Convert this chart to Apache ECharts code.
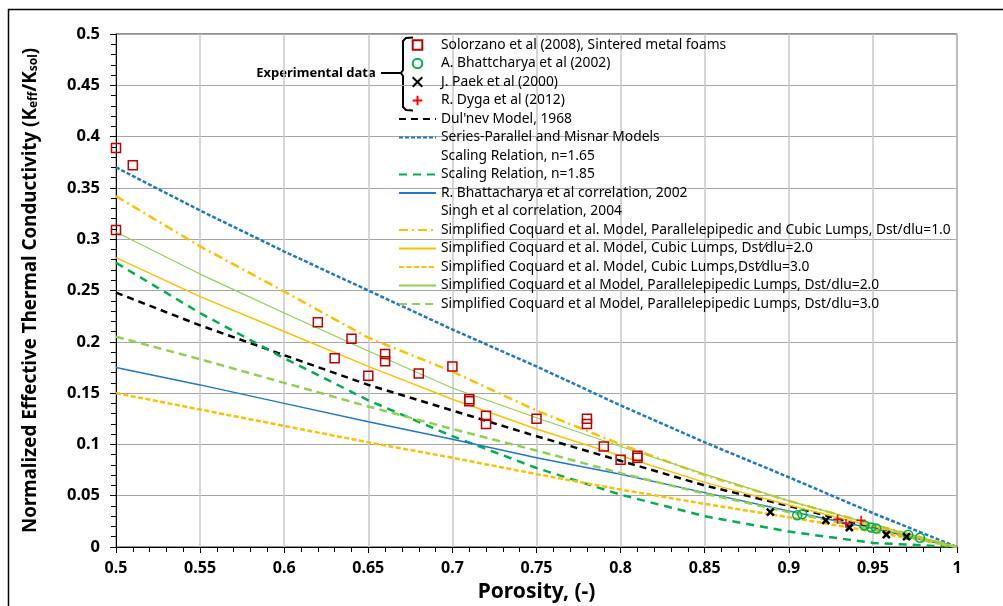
<!DOCTYPE html>
<html>
<head>
<meta charset="utf-8">
<script src="https://cdn.jsdelivr.net/npm/echarts@6/dist/echarts.min.js"></script>
<style>
  html, body { margin: 0; padding: 0; background: #fff; }
  #chart { width: 1003px; height: 606px; }
</style>
</head>
<body>
<div id="chart"></div>
<script>
// porosity grid used for the model curves
const porosity = [0.5, 0.55, 0.6, 0.65, 0.7, 0.75, 0.8, 0.85, 0.9, 0.95, 1.0];

// model curves
const dulnev       = [0.248, 0.216, 0.187, 0.158, 0.133, 0.108, 0.084, 0.060, 0.040, 0.019, 0];
const seriesPar    = [0.370, 0.328, 0.288, 0.250, 0.212, 0.176, 0.138, 0.102, 0.068, 0.033, 0];
const scaling185   = [0.277, 0.228, 0.184, 0.143, 0.108, 0.077, 0.051, 0.030, 0.015, 0.004, 0];
const bhattCorr    = [0.175, 0.158, 0.140, 0.122, 0.105, 0.087, 0.071, 0.053, 0.035, 0.018, 0];
const coqPC10      = [0.342, 0.293, 0.249, 0.204, 0.171, 0.133, 0.100, 0.070, 0.045, 0.022, 0];
const coqC20       = [0.282, 0.244, 0.210, 0.176, 0.144, 0.115, 0.089, 0.063, 0.041, 0.020, 0];
const coqC30       = [0.150, 0.134, 0.118, 0.102, 0.087, 0.071, 0.056, 0.042, 0.029, 0.015, 0];
const coqP20       = [0.307, 0.266, 0.228, 0.191, 0.155, 0.126, 0.098, 0.071, 0.045, 0.022, 0];
const coqP30       = [0.205, 0.183, 0.160, 0.137, 0.115, 0.094, 0.072, 0.052, 0.034, 0.017, 0];

// experimental points
const solorzano = [
  [0.50, 0.389], [0.51, 0.372], [0.50, 0.309], [0.62, 0.219], [0.63, 0.184],
  [0.64, 0.203], [0.65, 0.167], [0.66, 0.188], [0.66, 0.181], [0.68, 0.169],
  [0.70, 0.176], [0.71, 0.144], [0.71, 0.142], [0.72, 0.128], [0.72, 0.120],
  [0.75, 0.125], [0.78, 0.125], [0.78, 0.120], [0.79, 0.098], [0.80, 0.085],
  [0.81, 0.089], [0.81, 0.087]
];
const bhattExp = [
  [0.905, 0.031], [0.908, 0.032], [0.945, 0.021], [0.949, 0.019], [0.952, 0.018],
  [0.971, 0.012], [0.978, 0.009]
];
const paek = [[0.889, 0.034], [0.922, 0.026], [0.936, 0.019], [0.958, 0.012], [0.970, 0.010]];
const dyga = [[0.929, 0.027], [0.934, 0.023], [0.943, 0.026]];

const xTicks = ['0.5', '0.55', '0.6', '0.65', '0.7', '0.75', '0.8', '0.85', '0.9', '0.95', '1'];

const pair = vals => porosity.map((p, i) => [p, vals[i]]);
const FONT = 'Noto Sans';

function curve(name, vals, color, width, dash) {
  return {
    name, type: 'line', data: pair(vals), symbol: 'none', smooth: false,
    lineStyle: { color, width, type: dash || 'solid' }, itemStyle: { color }, z: 2
  };
}
function points(name, data, symbol, size, color, bw) {
  return {
    name, type: 'line', data, symbol, symbolSize: size, showSymbol: true,
    lineStyle: { opacity: 0, width: 0 },
    itemStyle: { color: 'rgba(0,0,0,0)', borderColor: color, borderWidth: bw, opacity: 1 },
    z: 5
  };
}
function blank(name) {
  return { name, type: 'line', data: [], symbol: 'none', lineStyle: { opacity: 0 }, itemStyle: { opacity: 0 } };
}

const X_PATH = 'path://M0,0L10,10M10,0L0,10';
const PLUS_PATH = 'path://M5,0L5,10M0,5L10,5';

const names = [
  'Solorzano et al (2008), Sintered metal foams',
  'A. Bhattcharya et al (2002)',
  'J. Paek et al (2000)',
  'R. Dyga et al (2012)',
  "Dul'nev Model, 1968",
  'Series-Parallel and Misnar Models',
  'Scaling Relation, n=1.65',
  'Scaling Relation, n=1.85',
  'R. Bhattacharya et al correlation, 2002',
  'Singh et al correlation, 2004',
  'Simplified Coquard et al. Model, Parallelepipedic and Cubic Lumps, Dst/dlu=1.0',
  'Simplified Coquard et al. Model, Cubic Lumps, Dst\u2044dlu=2.0',
  'Simplified Coquard et al. Model, Cubic Lumps,Dst\u2044dlu=3.0',
  'Simplified Coquard et al Model, Parallelepipedic Lumps, Dst/dlu=2.0',
  'Simplified Coquard et al Model, Parallelepipedic Lumps, Dst/dlu=3.0'
];

const series = [
  points(names[0], solorzano, 'rect', 9, '#C00000', 1.5),
  points(names[1], bhattExp, 'circle', 9, '#00B050', 1.5),
  points(names[2], paek, X_PATH, 7, '#000000', 2.5),
  points(names[3], dyga, PLUS_PATH, 9, '#FF0000', 1.5),
  curve(names[4], dulnev, '#000000', 2.5, [7, 5]),
  curve(names[5], seriesPar, '#1F78C8', 2.5, [4, 2]),
  blank(names[6]),
  curve(names[7], scaling185, '#00B050', 2.5, [8, 6]),
  curve(names[8], bhattCorr, '#1F78C8', 1.5),
  blank(names[9]),
  curve(names[10], coqPC10, '#FFC000', 2.5, [9, 4, 2, 4]),
  curve(names[11], coqC20, '#FFC000', 1.5),
  curve(names[12], coqC30, '#FFC000', 2.5, [5, 2.5]),
  curve(names[13], coqP20, '#92D050', 1.2),
  curve(names[14], coqP30, '#92D050', 2.5, [8, 5])
];

const legendData = names.map((n, i) => {
  if (i < 4) return n;
  if (i === 6 || i === 9) return { name: n, itemStyle: { opacity: 0 }, lineStyle: { opacity: 0 } };
  return { name: n, itemStyle: { opacity: 0 } };
});

const chart = echarts.init(document.getElementById('chart'));
chart.setOption({
  animation: false,
  backgroundColor: '#fff',
  grid: {
    left: 116, right: 46, top: 34, bottom: 59, outerBoundsMode: 'none',
    show: true, borderColor: '#262626', borderWidth: 1
  },
  legend: {
    orient: 'vertical', left: 398, top: 38, padding: 0,
    itemWidth: 37, itemHeight: 12, itemGap: 4.5,
    selectedMode: false,
    textStyle: { fontFamily: FONT, fontSize: 13.8, color: '#000' },
    data: legendData
  },
  xAxis: {
    type: 'value', min: 0.5, max: 1, interval: 0.05,
    name: 'Porosity, (-)', nameLocation: 'middle', nameGap: 35,
    nameTextStyle: { fontFamily: FONT, fontSize: 21, fontWeight: 'bold', color: '#000' },
    axisLine: { lineStyle: { color: '#000', width: 1 } },
    axisTick: { show: true, length: 6, lineStyle: { color: '#000' } },
    minorTick: { show: true, splitNumber: 5, length: 5, lineStyle: { color: '#000' } },
    axisLabel: {
      margin: 13, fontFamily: FONT, fontSize: 16, fontWeight: 'bold', color: '#000',
      formatter: v => xTicks[Math.round((v - 0.5) / 0.05)] ?? ''
    },
    splitLine: { show: true, lineStyle: { color: '#C8C8C8', width: 1.5 } }
  },
  yAxis: {
    type: 'value', min: 0, max: 0.5, interval: 0.05,
    name: '{a|Normalized Effective Thermal Conductivity (K}{s|eff}{a|/K}{s|sol}{a|)}',
    nameLocation: 'middle', nameGap: 76,
    nameTextStyle: {
      rich: {
        a: { fontFamily: FONT, fontSize: 18.8, fontWeight: 'bold', color: '#000' },
        s: { fontFamily: FONT, fontSize: 12, fontWeight: 'bold', color: '#000', verticalAlign: 'bottom', padding: [7, 0, 0, 0] }
      }
    },
    axisLine: { show: true, lineStyle: { color: '#000', width: 1 } },
    axisTick: { show: true, length: 6, lineStyle: { color: '#000' } },
    minorTick: { show: true, splitNumber: 5, length: 5, lineStyle: { color: '#000' } },
    axisLabel: {
      margin: 16, fontFamily: FONT, fontSize: 16.5, fontWeight: 'bold', color: '#000',
      formatter: v => String(+v.toFixed(2))
    },
    splitLine: { show: true, lineStyle: { color: '#A6A6A6', width: 1 } }
  },
  graphic: [
    { type: 'rect', shape: { x: 8.5, y: 9.5, width: 1100, height: 700 }, style: { fill: 'none', stroke: '#000', lineWidth: 1.5 }, silent: true },
    { type: 'text', x: 316, y: 73, style: { text: 'Experimental data', fontFamily: FONT, fontSize: 13, fontWeight: 'bold', fill: '#000', align: 'center', verticalAlign: 'middle' } },
    { type: 'polyline', shape: { points: [[381, 73], [401, 73]] }, style: { stroke: '#000', lineWidth: 2 } },
    { type: 'polyline', shape: { points: [[413, 37.5], [406, 38], [403, 41], [403, 70], [401, 73], [403, 76], [403, 107], [406, 110], [413, 110.5]] }, style: { stroke: '#000', lineWidth: 2, fill: 'none' } }
  ],
  series
});
</script>
</body>
</html>
